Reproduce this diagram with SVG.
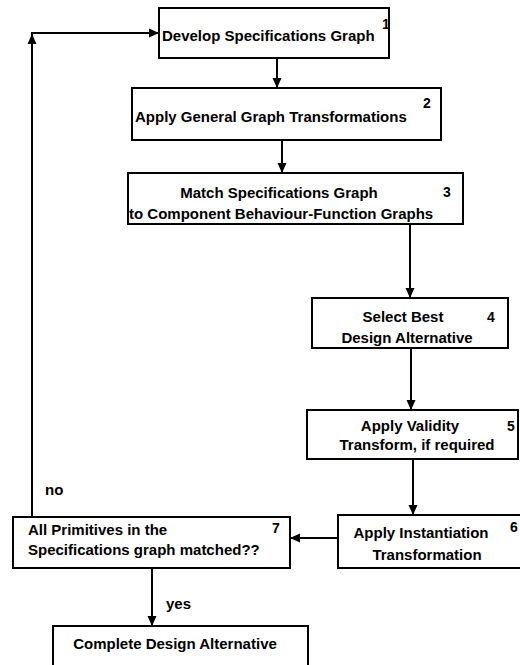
<svg xmlns="http://www.w3.org/2000/svg" width="520" height="665" viewBox="0 0 520 665">
  <style>
    .box { fill: #ffffff; stroke: #000000; stroke-width: 2; }
    .lbl { font-family: "Liberation Sans", Arial, sans-serif; font-size: 15px; font-weight: bold; fill: #000000; }
    .num { font-family: "Liberation Sans", Arial, sans-serif; font-size: 14px; font-weight: bold; fill: #000000; }
    .edge { fill: none; stroke: #000000; stroke-width: 2; }
  </style>
  <defs>
    <marker id="arrow" markerUnits="userSpaceOnUse" markerWidth="12" markerHeight="10" refX="10" refY="5" orient="auto">
      <path d="M0,0.5 L10,5 L0,9.5 Z" fill="#000000"/>
    </marker>
  </defs>
  <rect width="520" height="665" fill="#ffffff"/>

  <!-- connectors -->
  <g id="connectors">
    <path class="edge" d="M277,58 V88" marker-end="url(#arrow)"/>
    <path class="edge" d="M282,140 V173" marker-end="url(#arrow)"/>
    <path class="edge" d="M410,224 V298" marker-end="url(#arrow)"/>
    <path class="edge" d="M411,348 V410" marker-end="url(#arrow)"/>
    <path class="edge" d="M413,459 V515" marker-end="url(#arrow)"/>
    <path class="edge" d="M338,538 H290" marker-end="url(#arrow)"/>
    <path class="edge" d="M152,568 V626" marker-end="url(#arrow)"/>
    <!-- feedback loop: "no" branch back to step 1 -->
    <path class="edge" d="M32,517 V33 H159" marker-end="url(#arrow)"/>
    <path class="edge" d="M32,60 V34" marker-end="url(#arrow)"/>
    <text class="lbl" x="45" y="495">no</text>
    <text class="lbl" x="166" y="609">yes</text>
  </g>

  <g id="n1">
    <rect class="box" x="159" y="8" width="230" height="50"/>
    <text class="lbl" x="162" y="41">Develop Specifications Graph</text>
    <text class="num" x="382" y="29">1</text>
  </g>

  <g id="n2">
    <rect class="box" x="132" y="88" width="309" height="52"/>
    <text class="lbl" x="135" y="122">Apply General Graph Transformations</text>
    <text class="num" x="423" y="108">2</text>
  </g>

  <g id="n3">
    <rect class="box" x="128" y="173" width="335" height="51"/>
    <text class="lbl" x="279" y="198" text-anchor="middle">Match Specifications Graph</text>
    <text class="lbl" x="129" y="219">to Component Behaviour-Function Graphs</text>
    <text class="num" x="443" y="197">3</text>
  </g>

  <g id="n4">
    <rect class="box" x="312" y="298" width="196" height="50"/>
    <text class="lbl" x="403" y="322" text-anchor="middle">Select Best</text>
    <text class="lbl" x="407" y="343" text-anchor="middle">Design Alternative</text>
    <text class="num" x="487" y="322">4</text>
  </g>

  <g id="n5">
    <rect class="box" x="307" y="410" width="211" height="49"/>
    <text class="lbl" x="410" y="431" text-anchor="middle">Apply Validity</text>
    <text class="lbl" x="417" y="450" text-anchor="middle">Transform, if required</text>
    <text class="num" x="507" y="431">5</text>
  </g>

  <g id="n6">
    <rect class="box" x="338" y="515" width="190" height="53"/>
    <text class="lbl" x="421" y="538" text-anchor="middle">Apply Instantiation</text>
    <text class="lbl" x="427" y="560" text-anchor="middle">Transformation</text>
    <text class="num" x="510" y="532">6</text>
  </g>

  <g id="n7">
    <rect class="box" x="13" y="517" width="277" height="51"/>
    <text class="lbl" x="28" y="535">All Primitives in the</text>
    <text class="lbl" x="28" y="555">Specifications graph matched??</text>
    <text class="num" x="272" y="533">7</text>
  </g>

  <g id="n8">
    <rect class="box" x="53" y="626" width="255" height="50"/>
    <text class="lbl" x="175" y="649" text-anchor="middle">Complete Design Alternative</text>
  </g>
</svg>
